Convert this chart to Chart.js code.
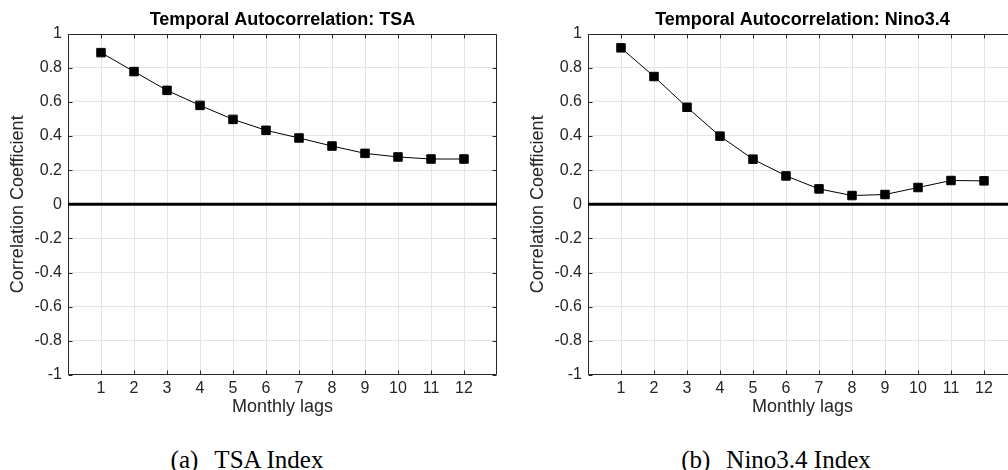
<!DOCTYPE html>
<html><head><meta charset="utf-8">
<script src="https://cdn.jsdelivr.net/npm/chart.js@4"></script>
<style>
html,body{margin:0;padding:0;background:#fff;overflow:hidden;width:1008px;height:470px;position:relative;}
.wrap{position:absolute;top:0;height:430px;}
.cap{position:absolute;top:460px;font-family:"Liberation Serif","Times New Roman",serif;font-size:25px;color:#000;transform:translate(-50%,-50%);white-space:nowrap;}
.gap{display:inline-block;width:16px;}
</style></head><body>
<div class="wrap" style="left:0;width:504px"><canvas id="c1" width="504" height="430"></canvas></div>
<div class="wrap" style="left:504px;width:520px"><canvas id="c2" width="520" height="430"></canvas></div>
<div class="cap" style="left:247px">(a)<span class="gap"></span>TSA Index</div>
<div class="cap" style="left:776px">(b)<span class="gap"></span>Nino3.4 Index</div>
<script>
// ---- data ----
const lags = [1, 2, 3, 4, 5, 6, 7, 8, 9, 10, 11, 12];
const tsaValues = [0.888, 0.777, 0.667, 0.579, 0.497, 0.433, 0.388, 0.341, 0.298, 0.277, 0.265, 0.265];
const ninoValues = [0.916, 0.748, 0.568, 0.399, 0.264, 0.166, 0.090, 0.051, 0.057, 0.098, 0.139, 0.137];
const yTickValues = [-1, -0.8, -0.6, -0.4, -0.2, 0, 0.2, 0.4, 0.6, 0.8, 1];
const xRange = [0, 13];
const titles = ['Temporal Autocorrelation: TSA', 'Temporal Autocorrelation: Nino3.4'];
const xAxisTitle = 'Monthly lags';
const yAxisTitle = 'Correlation Coefficient';

const FONT = '"Liberation Sans", Arial, Helvetica, sans-serif';
const AXC = '#262626';
const GRIDC = '#e4e4e4';

const boxPlugin = {
  id: 'box',
  beforeDatasetsDraw(chart) {
    const {ctx, chartArea: a, scales: {x, y}} = chart;
    ctx.save();
    ctx.strokeStyle = AXC;
    ctx.lineWidth = 1;
    const L = Math.round(a.left) + 0.5, R = Math.round(a.right) - 0.5;
    const T = Math.round(a.top) + 0.5, B = Math.round(a.bottom) - 0.5;
    ctx.beginPath();
    ctx.rect(L, T, R - L, B - T);
    const tl = 4;
    x.ticks.forEach(t => {
      if (t.value <= xRange[0] || t.value >= xRange[1]) return;
      const px = Math.round(x.getPixelForValue(t.value)) + 0.5;
      ctx.moveTo(px, B); ctx.lineTo(px, B - tl);
      ctx.moveTo(px, T); ctx.lineTo(px, T + tl);
    });
    y.ticks.forEach(t => {
      const py = Math.round(y.getPixelForValue(t.value)) + 0.5;
      ctx.moveTo(L, py); ctx.lineTo(L + tl, py);
      ctx.moveTo(R, py); ctx.lineTo(R - tl, py);
    });
    ctx.stroke();
    ctx.restore();
  }
};

function makeChart(id, title, values, padLeft, padRight) {
  return new Chart(document.getElementById(id), {
    type: 'line',
    data: {
      datasets: [
        {
          data: lags.map((l, i) => ({x: l, y: values[i]})),
          borderColor: '#000', borderWidth: 1,
          pointStyle: 'rect', pointRadius: 6,
          pointBackgroundColor: '#000', pointBorderColor: '#000', pointBorderWidth: 1,
          tension: 0, order: 1
        },
        {
          data: xRange.map(v => ({x: v, y: 0})),
          borderColor: '#000', borderWidth: 3, pointRadius: 0, order: 2
        }
      ]
    },
    options: {
      responsive: false,
      animation: false,
      devicePixelRatio: 1,
      layout: {padding: {left: padLeft, right: padRight, top: 0, bottom: 0}},
      plugins: {
        legend: {display: false},
        tooltip: {enabled: false},
        title: {
          display: true, text: title, fullSize: false, color: '#000',
          font: {family: FONT, size: 18, weight: 'bold'},
          padding: {top: 9.7, bottom: 2.2}
        }
      },
      scales: {
        x: {
          type: 'linear', position: 'bottom', min: xRange[0], max: xRange[1],
          afterBuildTicks: s => { s.ticks = [xRange[0], ...lags, xRange[1]].map(v => ({value: v})); },
          afterFit: s => { s.height = 55; },
          ticks: {
            autoSkip: false, maxRotation: 0, padding: 4.4, color: AXC,
            font: {family: FONT, size: 16},
            callback: v => lags.includes(v) ? String(v) : ''
          },
          grid: {
            drawTicks: false,
            color: c => (c.tick && c.tick.value > xRange[0] && c.tick.value < xRange[1]) ? GRIDC : 'rgba(0,0,0,0)'
          },
          border: {display: false},
          title: {
            display: true, text: xAxisTitle, color: AXC,
            font: {family: FONT, size: 18}, padding: {top: 0, bottom: 12.2}
          }
        },
        y: {
          type: 'linear', min: -1, max: 1,
          afterBuildTicks: s => { s.ticks = yTickValues.map(v => ({value: v})); },
          afterFit: s => { s.width = 68; },
          ticks: {
            padding: 6, color: AXC, font: {family: FONT, size: 16},
            callback: v => String(Number(v.toFixed(1)))
          },
          grid: {
            drawTicks: false,
            color: c => (c.tick && c.tick.value > -1 && c.tick.value < 1 && c.tick.value !== 0) ? GRIDC : 'rgba(0,0,0,0)'
          },
          border: {display: false},
          title: {
            display: true, text: yAxisTitle, color: AXC,
            font: {family: FONT, size: 18}, padding: {top: 7.7, bottom: 0}
          }
        }
      }
    },
    plugins: [boxPlugin]
  });
}

makeChart('c1', titles[0], tsaValues, 0, 3.7);
makeChart('c2', titles[1], ninoValues, 16, 5.5);
</script>
</body></html>
